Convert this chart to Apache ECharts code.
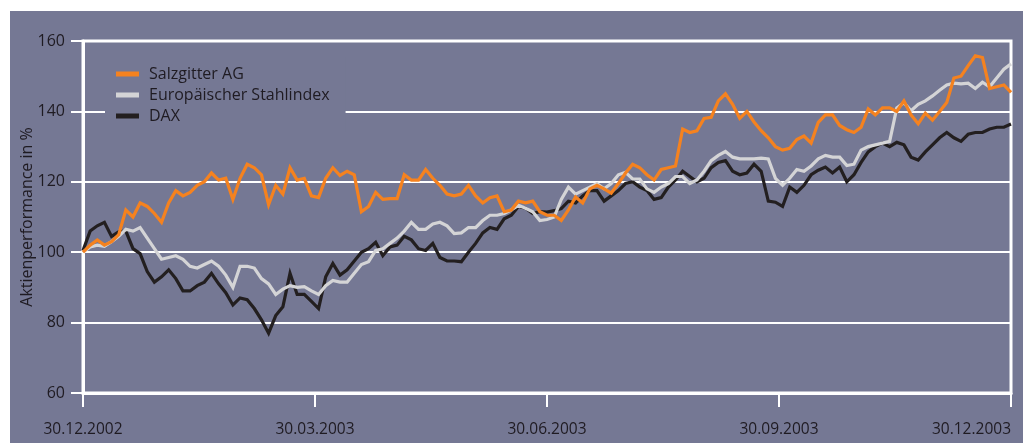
<!DOCTYPE html>
<html>
<head>
<meta charset="utf-8">
<script src="https://cdn.jsdelivr.net/npm/echarts@6/dist/echarts.min.js"></script>
<style>
  html, body { margin: 0; padding: 0; background: #fff; }
  #chart {
    position: absolute;
    left: 10px;
    top: 11px;
    width: 1013px;
    height: 432px;
    background: #757894;
  }
</style>
</head>
<body>
<div id="chart"></div>
<script>
// x positions are trading-day steps 0..130, quarter ticks every 32.5 steps
const tickLabels = ['30.12.2002', '30.03.2003', '30.06.2003', '30.09.2003', '30.12.2003']
const seriesNames = ['Salzgitter AG', 'Europäischer Stahlindex', 'DAX']

const salzgitter = [
  100, 102, 103.5, 102, 103, 105, 112, 110, 114, 113,
  111, 108.5, 114, 117.5, 116, 117, 119, 120, 122.5, 120.5,
  121, 115, 121, 125, 124, 122, 113.5, 119, 116.5, 124,
  120.5, 121, 116, 115.5, 121, 124, 121.8, 123, 122, 111.5,
  113, 117, 115, 115.2, 115.2, 122, 120.5, 120.5, 123.5, 121,
  119, 116.5, 116, 116.5, 119, 116, 114, 115.5, 116, 111.5,
  112, 114.5, 114, 114.5, 111.5, 110.5, 110.5, 109, 112, 115.7,
  114, 118, 119, 118, 116.8, 119.5, 122.5, 125, 124, 122,
  120.5, 123.5, 124, 124.5, 135, 134, 134.5, 138, 138.3, 143,
  145, 142, 138, 140, 137, 134.5, 132.5, 130, 129, 129.5,
  132, 133, 131, 136.9, 139, 139, 136, 134.8, 134, 135.5,
  140.7, 139, 141, 141, 140, 143, 139, 136.5, 139.5, 137.5,
  140, 142.5, 149.5, 150, 153, 155.8, 155.3, 146.5, 147, 147.5,
  145.4
]

const stahlindex = [
  100, 101.5, 102, 101.7, 103, 104.5, 106.5, 106, 107, 104,
  101, 98, 98.5, 99, 98, 96, 95.5, 96.5, 97.5, 96,
  93.5, 90, 96, 96, 95.5, 92.5, 91, 88, 89.5, 90.5,
  90, 90.2, 89, 88, 90.5, 92, 91.5, 91.5, 94, 96.5,
  97.3, 100.5, 101, 102.5, 104, 106, 108.5, 106.5, 106.5, 108,
  108.5, 107.5, 105.3, 105.5, 107, 107, 109, 110.5, 110.5, 111,
  112, 113.3, 112.5, 111.5, 109, 109.3, 110, 115, 118.5, 116.5,
  117.5, 118.5, 119.5, 118, 119.5, 122, 122.7, 120.8, 120.8, 118,
  117, 118.5, 119.5, 121.5, 121.5, 119.5, 120.5, 123, 126, 127.5,
  128.6, 127, 126.5, 126.5, 126.5, 126.7, 126.5, 121, 119, 121,
  123.5, 123, 124.5, 126.5, 127.5, 127, 127, 124.6, 125, 129,
  130, 130.5, 131, 131.5, 141, 142.5, 140.2, 142, 143, 144.4,
  146, 147.5, 148, 147.8, 148, 146.5, 148.3, 147, 149.5, 152,
  153.5
]

const dax = [
  100.5, 106, 107.5, 108.5, 104.5, 105.8, 106, 101, 99.6, 94.5,
  91.5, 93, 95, 92.5, 89, 89, 90.5, 91.5, 94, 91,
  88.5, 85, 87, 86.5, 84, 80.8, 77, 82, 84.5, 94,
  88, 88, 86, 84, 93, 96.8, 93.5, 95, 97.5, 100,
  101, 102.8, 99, 101.5, 102, 104.5, 103.5, 101, 100.5, 102.5,
  98.5, 97.5, 97.5, 97.3, 100, 102.5, 105.5, 107, 106.5, 109.5,
  110.5, 113, 112.5, 111, 111.5, 111.4, 111.8, 112.4, 114.5, 114,
  116, 117.5, 117.5, 114.5, 116, 117.5, 119.5, 120, 118.5, 117.5,
  115, 115.5, 118.5, 120.5, 123, 121.5, 120, 121, 124, 125.5,
  126, 123, 122, 122.5, 125, 123, 114.5, 114.2, 113, 118.5,
  117, 119, 122, 123.3, 124.2, 122.5, 124.2, 120, 122, 125.5,
  128.5, 130, 131, 130, 131.2, 130.5, 127, 126.2, 128.5, 130.5,
  132.5, 134, 132.5, 131.5, 133.5, 134, 134, 135, 135.5, 135.5,
  136.4
]

const lineColors = ['#f5821f', '#d4d4d6', '#231f20']
const textColor = '#1f1b22'
const bgColor = '#757894'

const chart = echarts.init(document.getElementById('chart'))

const toPoints = arr => arr.map((v, i) => [i, v])

const makeSeries = (name, arr, color) => ({
  name: name,
  type: 'line',
  data: toPoints(arr),
  showSymbol: false,
  symbol: 'none',
  lineStyle: { color: color, width: 3.2, join: 'miter' },
  itemStyle: { color: color }
})

const option = {
  animation: false,
  textStyle: { fontFamily: 'Open Sans' },
  grid: {
    left: 73,
    right: 12,
    top: 30,
    bottom: 50,
    outerBoundsMode: 'none',
    containLabel: false,
    show: true,
    borderColor: '#ffffff',
    borderWidth: 3,
    backgroundColor: 'transparent'
  },
  legend: {
    orient: 'vertical',
    left: 95,
    top: 46,
    padding: [9, 16, 8, 11],
    backgroundColor: bgColor,
    itemWidth: 23,
    itemHeight: 5,
    itemGap: 5,
    icon: 'rect',
    data: seriesNames,
    textStyle: { color: textColor, fontSize: 16, fontFamily: 'Open Sans', padding: [0, 0, 0, 5] }
  },
  xAxis: {
    type: 'value',
    min: 0,
    max: 130,
    interval: 32.5,
    axisLine: { show: true, lineStyle: { color: '#ffffff', width: 3 } },
    axisTick: { show: true, length: 14, lineStyle: { color: '#ffffff', width: 2 } },
    axisLabel: {
      color: textColor,
      fontSize: 15.5,
      margin: 29,
      alignMaxLabel: 'right',
      formatter: v => tickLabels[Math.round(v / 32.5)]
    },
    splitLine: { show: false }
  },
  yAxis: {
    type: 'value',
    min: 60,
    max: 160,
    interval: 20,
    name: 'Aktienperformance in %',
    nameLocation: 'middle',
    nameGap: 48,
    nameMoveOverlap: false,
    nameTextStyle: { color: textColor, fontSize: 16 },
    axisLine: { show: true, lineStyle: { color: '#ffffff', width: 3 } },
    axisTick: { show: true, length: 12, lineStyle: { color: '#ffffff', width: 2 } },
    axisLabel: { color: textColor, fontSize: 16, margin: 18 },
    splitLine: { show: true, lineStyle: { color: '#ffffff', width: 2 } }
  },
  series: [
    makeSeries(seriesNames[2], dax, lineColors[2]),
    makeSeries(seriesNames[1], stahlindex, lineColors[1]),
    makeSeries(seriesNames[0], salzgitter, lineColors[0])
  ]
}

chart.setOption(option)
</script>
</body>
</html>
